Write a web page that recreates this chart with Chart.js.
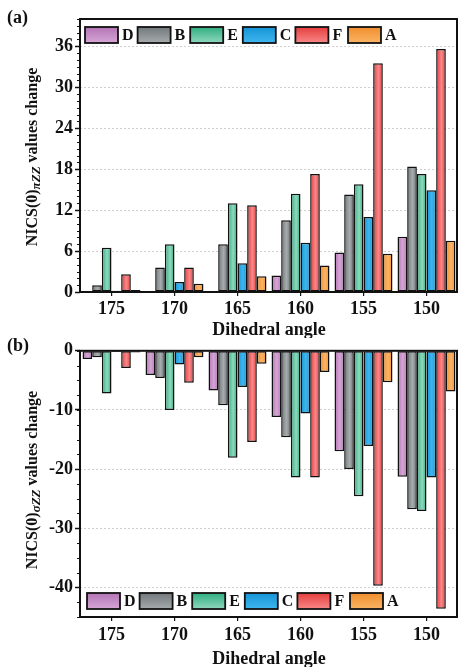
<!DOCTYPE html>
<html>
<head>
<meta charset="utf-8">
<script src="https://cdn.jsdelivr.net/npm/chart.js@4"></script>
<style>
  html, body { margin: 0; padding: 0; background: #fff; }
  body { width: 458px; height: 667px; position: relative; overflow: hidden; }
  .wrap { position: absolute; left: 0; width: 458px; }
  #wrapA { top: 0; height: 338px; }
  #wrapB { top: 338px; height: 329px; }
</style>
</head>
<body>
<div class="wrap" id="wrapA"><canvas id="chartA"></canvas></div>
<div class="wrap" id="wrapB"><canvas id="chartB"></canvas></div>
<script>
// categories and series
const angles = ['175', '170', '165', '160', '155', '150'];
const seriesNames = ['D', 'B', 'E', 'C', 'F', 'A'];

// (a) NICS(0)pi-zz values change
const piD = [0.05, 0.05, 0.1, 2.4, 5.8, 8.1];
const piB = [1.0, 3.6, 7.0, 10.5, 14.3, 18.4];
const piE = [6.5, 7.0, 13.0, 14.4, 15.8, 17.3];
const piC = [0.2, 1.45, 4.2, 7.2, 11.0, 14.9];
const piF = [2.6, 3.6, 12.7, 17.3, 33.5, 35.6];
const piA = [0.3, 1.2, 2.3, 3.9, 5.6, 7.5];

// (b) NICS(0)sigma-zz values change
const sigD = [-1.4, -4.1, -6.7, -11.2, -17.0, -21.3];
const sigB = [-1.1, -4.6, -9.2, -14.6, -20.0, -26.8];
const sigE = [-7.2, -10.0, -18.1, -21.4, -24.6, -27.1];
const sigC = [-0.2, -2.3, -6.1, -10.6, -16.1, -21.4];
const sigF = [-2.9, -5.4, -15.4, -21.4, -39.7, -43.6];
const sigA = [-0.3, -1.1, -2.2, -3.6, -5.3, -6.9];

const ticksA = [0, 6, 12, 18, 24, 30, 36];
const ticksB = [0, -10, -20, -30, -40];

// colours: [edge, centre]
const colours = [
    ['#b374b5', '#d6a6d6'],
    ['#72787b', '#a6abad'],
    ['#2fae82', '#8fd8bd'],
    ['#1594d6', '#3fb6ee'],
    ['#e63e3e', '#f98787'],
    ['#f08e2e', '#fbb464']
];

const SERIF = '"Liberation Serif", "DejaVu Serif", serif';
const CAT_PCT = 0.92;

const barGradient = function (ctx) {
    const chart = ctx.chart;
    const xs = chart.scales.x;
    const c = colours[ctx.datasetIndex];
    if (!xs || ctx.dataIndex === undefined) {
        return c[0];
    }
    const barW = (xs.width / angles.length) * CAT_PCT / seriesNames.length;
    const cx = xs.getPixelForValue(ctx.dataIndex) + (ctx.datasetIndex - 2.5) * barW;
    if (!isFinite(cx) || !isFinite(barW) || barW <= 0) {
        return c[0];
    }
    const g = chart.ctx.createLinearGradient(cx - barW / 2, 0, cx + barW / 2, 0);
    g.addColorStop(0, c[0]);
    g.addColorStop(0.55, c[1]);
    g.addColorStop(1, c[0]);
    return g;
};

const makeDatasets = (arrays) => arrays.map((arr, i) => ({
    label: seriesNames[i],
    data: arr,
    backgroundColor: barGradient,
    borderColor: '#111',
    borderWidth: 1.5,
    borderSkipped: false,
    categoryPercentage: CAT_PCT,
    barPercentage: 1
}));

// draws frame, minor ticks, legend and axis titles
const decor = {
    id: 'decor',
    afterDraw(chart, args, opts) {
        const ctx = chart.ctx;
        const area = chart.chartArea;
        const ys = chart.scales.y;
        ctx.save();

        // frame
        ctx.strokeStyle = '#111';
        ctx.lineWidth = 2;
        ctx.strokeRect(area.left, area.top, area.right - area.left - 1, area.bottom - area.top);

        // minor ticks
        ctx.lineWidth = 1.2;
        ctx.beginPath();
        for (let v = ys.min; v <= ys.max + 1e-6; v += opts.minor) {
            const y = Math.round(ys.getPixelForValue(v)) + 0.5;
            ctx.moveTo(area.left - 3, y);
            ctx.lineTo(area.left, y);
        }
        ctx.stroke();

        // legend
        ctx.font = 'bold 16px ' + SERIF;
        ctx.textBaseline = 'middle';
        ctx.textAlign = 'left';
        seriesNames.forEach((name, i) => {
            const x = opts.legendX + i * 52.6;
            const y = opts.legendY;
            const g = ctx.createLinearGradient(0, y, 0, y + 16);
            g.addColorStop(0, colours[i][0]);
            g.addColorStop(1, colours[i][1]);
            ctx.fillStyle = g;
            ctx.fillRect(x, y, 33, 16);
            ctx.lineWidth = 1.8;
            ctx.strokeStyle = '#111';
            ctx.strokeRect(x, y, 33, 16);
            ctx.fillStyle = '#111';
            ctx.fillText(name, x + 37, y + 9);
        });

        // panel letter
        ctx.font = 'bold 18px ' + SERIF;
        ctx.fillText(opts.panel, 7, opts.panelY);

        // x title
        ctx.textAlign = 'center';
        ctx.font = 'bold 18px ' + SERIF;
        ctx.fillText('Dihedral angle', (area.left + area.right) / 2, opts.xTitleY);

        // y title with subscript
        ctx.translate(opts.yTitleX, opts.yTitleY);
        ctx.rotate(-Math.PI / 2);
        const f1 = 'bold 16px ' + SERIF;
        const f2 = 'bold italic 13px ' + SERIF;
        const parts = [
            ['NICS(0)', f1, 0],
            [opts.sub, f2, 4],
            [' values change', f1, 0]
        ];
        let total = 0;
        parts.forEach(p => { ctx.font = p[1]; total += ctx.measureText(p[0]).width; });
        let x = -total / 2;
        ctx.textAlign = 'left';
        parts.forEach(p => {
            ctx.font = p[1];
            ctx.fillText(p[0], x, p[2]);
            x += ctx.measureText(p[0]).width;
        });
        ctx.restore();
    }
};

const makeOptions = (cfg) => ({
    responsive: true,
    maintainAspectRatio: false,
    animation: false,
    events: [],
    layout: { padding: { top: cfg.padTop, left: 0, right: 0, bottom: 0 } },
    plugins: {
        legend: { display: false },
        tooltip: { enabled: false },
        decor: cfg.decor
    },
    scales: {
        x: {
            grid: { display: true, offset: false, drawOnChartArea: false, drawTicks: true, tickLength: 4, color: '#111', lineWidth: 1.2 },
            border: { display: false },
            ticks: { color: '#111', font: { family: SERIF, size: 18, weight: 'bold' }, padding: cfg.xPad },
            afterFit(scale) { scale.height = cfg.xHeight; }
        },
        y: {
            min: cfg.min,
            max: cfg.max,
            afterBuildTicks(scale) { scale.ticks = cfg.ticks.map(v => ({ value: v })); },
            grid: {
                color: '#d0d0d0',
                lineWidth: 1,
                tickLength: 5,
                tickColor: '#111',
                tickWidth: 1.5
            },
            border: { display: false, dash: [2, 2] },
            ticks: { color: '#111', font: { family: SERIF, size: 18, weight: 'bold' }, padding: 2 },
            afterFit(scale) { scale.width = 80; }
        }
    }
});

new Chart(document.getElementById('chartA'), {
    type: 'bar',
    data: {
        labels: angles,
        datasets: makeDatasets([piD, piB, piE, piC, piF, piA])
    },
    plugins: [decor],
    options: makeOptions({
        padTop: 19, xHeight: 46, xPad: 3, min: 0, max: 40, ticks: ticksA,
        decor: {
            minor: 1, legendX: 85, legendY: 27, panel: '(a)', panelY: 18,
            xTitleY: 330, yTitleX: 33, yTitleY: 157, sub: 'πZZ'
        }
    })
});

new Chart(document.getElementById('chartB'), {
    type: 'bar',
    data: {
        labels: angles,
        datasets: makeDatasets([sigD, sigB, sigE, sigC, sigF, sigA])
    },
    plugins: [decor],
    options: makeOptions({
        padTop: 7, xHeight: 50, xPad: 4, min: -45, max: 0, ticks: ticksB,
        decor: {
            minor: 2.5, legendX: 87, legendY: 255, panel: '(b)', panelY: 8,
            xTitleY: 321, yTitleX: 33, yTitleY: 142, sub: 'σZZ'
        }
    })
});
</script>
</body>
</html>
